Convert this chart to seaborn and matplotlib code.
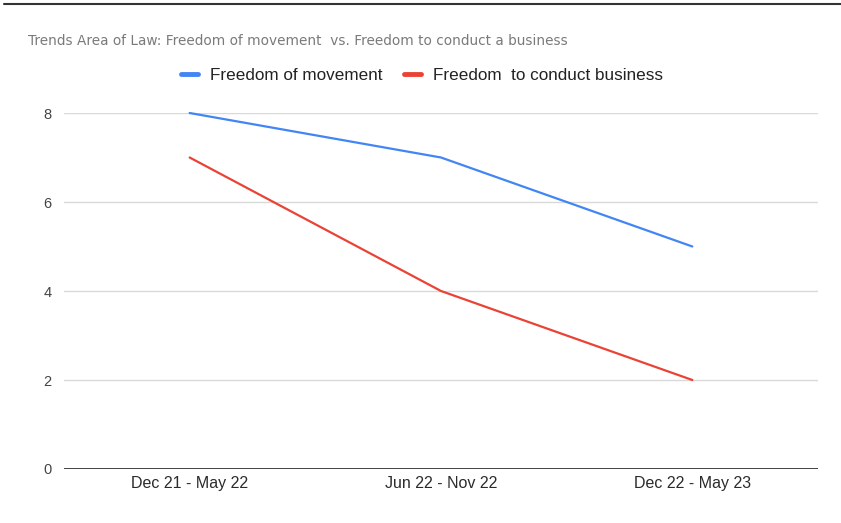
import matplotlib
matplotlib.use("Agg")
import matplotlib.pyplot as plt
import matplotlib.lines as mlines
import seaborn as sns
import pandas as pd

periods = ["Dec 21 - May 22", "Jun 22 - Nov 22", "Dec 22 - May 23"]
movement = [8, 7, 5]
business = [7, 4, 2]
series_names = ["Freedom of movement", "Freedom  to conduct business"]
colors = ["#4285F4", "#EA4335"]
y_ticks = [0, 2, 4, 6, 8]

df = pd.DataFrame({
    "period": periods * 2,
    "x": list(range(len(periods))) * 2,
    "value": movement + business,
    "series": [series_names[0]] * 3 + [series_names[1]] * 3,
})

sns.set_theme(style="white")
plt.rcParams["font.family"] = ["Liberation Sans", "DejaVu Sans"]

fig = plt.figure(figsize=(8.41, 5.23), dpi=100)
ax = fig.add_axes([64 / 841, 1 - 469 / 523, (818 - 64) / 841, (469 - 113) / 523])

sns.lineplot(data=df, x="x", y="value", hue="series", palette=colors,
             linewidth=1.6, ax=ax, legend=False, clip_on=False, zorder=3)

ax.set_xlim(-0.5, 2.5)
ax.set_ylim(0, 8)
ax.set_xticks(range(len(periods)))
ax.set_xticklabels(periods, fontsize=11.5, color="#2b2b2b")
ax.set_yticks(y_ticks)
ax.set_yticklabels([str(v) for v in y_ticks], fontsize=10.5, color="#444444")
ax.set_xlabel("")
ax.set_ylabel("")
ax.tick_params(axis="both", length=0)
ax.tick_params(axis="y", pad=9)
ax.tick_params(axis="x", pad=5)

for v in y_ticks[1:]:
    ax.axhline(v, color="#d9d9d9", linewidth=1, zorder=1)
ax.axhline(0, color="#333333", linewidth=1.3, zorder=2)
for s in ax.spines.values():
    s.set_visible(False)

# frame line across the top of the figure
fig.add_artist(mlines.Line2D([4 / 841, 1], [1 - 3.5 / 523, 1 - 3.5 / 523],
                             color="#333333", linewidth=1.5))

fig.text(28 / 841, 1 - 41 / 523,
         "Trends Area of Law: Freedom of movement  vs. Freedom to conduct a business",
         fontsize=9.8, color="#7a7a7a", va="center", ha="left",
         family=["DejaVu Sans"])

handles = [mlines.Line2D([], [], color=c, linewidth=3.5) for c in colors]
fig.legend(handles, series_names, loc="center", bbox_to_anchor=(422 / 841, 1 - 75 / 523),
           ncol=2, frameon=False, fontsize=12.3, handlelength=1.0,
           handletextpad=0.7, columnspacing=1.3, labelcolor="#222222")

fig.savefig("out.png", dpi=100)
